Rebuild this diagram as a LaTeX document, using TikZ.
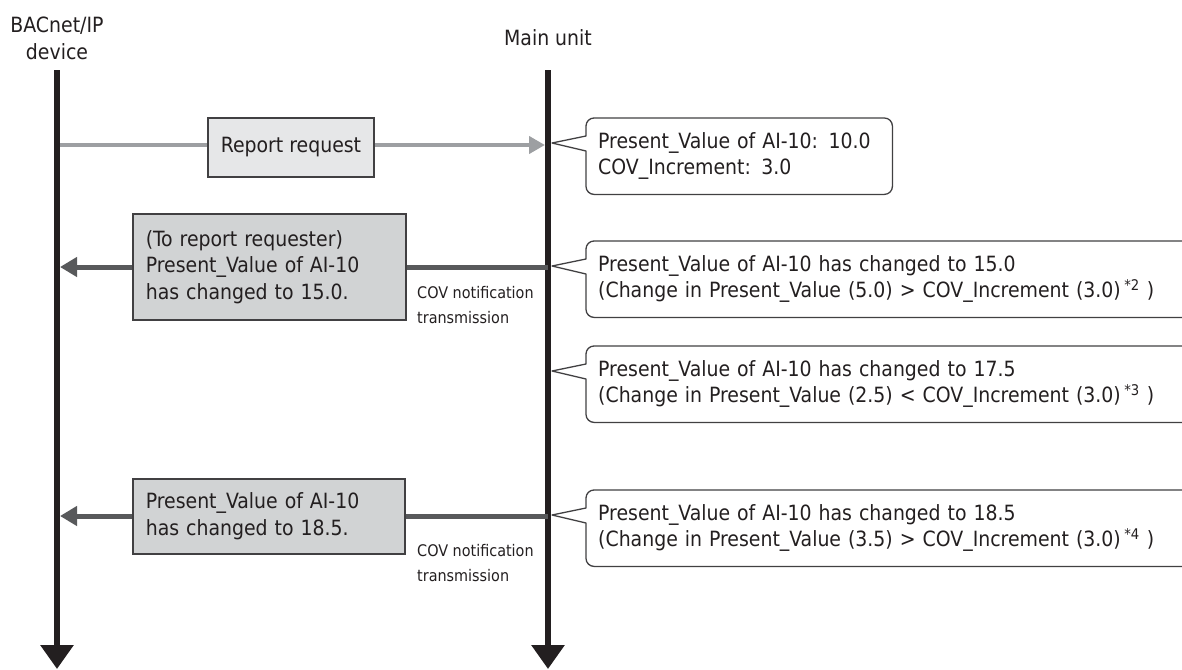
\documentclass[tikz,border=0pt]{standalone}
\usepackage{fontspec}
\setmainfont{DejaVu Sans Condensed}
\usetikzlibrary{arrows.meta,calc}
\definecolor{ink}{HTML}{231F20}
\definecolor{reqgray}{HTML}{9D9FA2}
\definecolor{notegray}{HTML}{58595B}
\definecolor{boxlight}{HTML}{E6E7E8}
\definecolor{boxdark}{HTML}{D1D3D4}
\definecolor{edge}{HTML}{414042}

% underscore glyph taken from the text font
\newcommand\us{{\char"5F}}

% speech-bubble note attached to the main unit's lifeline
% #1 name, #2 top y, #3 right x, #4 text width, #5 text
\newcommand\drawnote[5]{%
  \node[notetext, text width=#4pt, minimum width={#3-586}] (#1) at (586,#2) {#5};
  \coordinate (#1tip) at (552,#2+25);
  \draw[noteline] (#1tip) -- ($(#1.north west)+(0,18)$) [rounded corners=8pt]
    -- (#1.north west) -- (#1.north east) -- (#1.south east) -- (#1.south west)
    [sharp corners] -- ($(#1.north west)+(0,33)$) -- cycle;
}

\begin{document}
\begin{tikzpicture}[x=1pt,y=-1pt,
  font=\fontsize{21}{26.5}\selectfont,
  every node/.style={text=ink},
  hdr/.style={align=center, inner sep=0pt},
  lifeline/.style={line width=6pt, draw=ink, -{Triangle[width=32pt,length=24pt]}},
  reqarrow/.style={line width=4pt, draw=reqgray, -{Triangle[width=17pt,length=16pt]}},
  notearrow/.style={line width=5pt, draw=notegray, -{Triangle[width=19pt,length=17pt]}},
  msgbox/.style={draw=edge, line width=1.6pt, inner xsep=13pt, inner ysep=0pt, align=left, anchor=north west},
  covlabel/.style={font=\fontsize{16}{25}\selectfont, align=left, anchor=west, inner sep=0pt},
  notetext/.style={anchor=north west, inner xsep=12pt, inner ysep=0pt, minimum height=76pt, align=left},
  noteline/.style={draw=edge, line width=1.3pt, line join=round}
]
\clip (0,0) rectangle (1182,669);

% column headings
\node[hdr] (devhdr) at (57,38.5) {BACnet/IP\\device};
\node[hdr] (mainhdr) at (548,38) {Main unit};

% lifelines
\coordinate (devtop) at (57,70);
\coordinate (devbot) at (57,669);
\coordinate (maintop) at (548,70);
\coordinate (mainbot) at (548,669);
\draw[lifeline] (devtop) -- (devbot);
\draw[lifeline] (maintop) -- (mainbot);

% report request
\coordinate (reqfrom) at (60,145);
\coordinate (reqto) at (545,145);
\draw[reqarrow] (reqfrom) -- (reqto);
\node[msgbox, fill=boxlight, minimum width=152pt, minimum height=59pt, align=center] (req) at (207,117) {Report request};

% first COV notification
\coordinate (cov1from) at (548,267);
\coordinate (cov1to) at (60,267);
\draw[notearrow] (cov1from) -- (cov1to);
\node[msgbox, fill=boxdark, text width=247pt, minimum height=106pt] (cov1) at (132,213)
  {(To report requester)\\Present\us Value of AI-10\\has changed to 15.0.};
\node[covlabel] (cov1lbl) at (417,305.5) {COV notification\\transmission};

% second COV notification
\coordinate (cov2from) at (548,516);
\coordinate (cov2to) at (60,516);
\draw[notearrow] (cov2from) -- (cov2to);
\node[msgbox, fill=boxdark, text width=246pt, minimum height=75pt] (cov2) at (132,478)
  {Present\us Value of AI-10\\has changed to 18.5.};
\node[covlabel] (cov2lbl) at (417,563) {COV notification\\transmission};

% notes at the main unit
\drawnote{note1}{118}{892}{282}{Present\us Value of AI-10: 10.0\\COV\us Increment: 3.0}
\drawnote{note2}{241}{1200}{590}{Present\us Value of AI-10 has changed to 15.0\\(Change in Present\us Value (5.0) > COV\us Increment (3.0)\,\textsuperscript{*2} )}
\drawnote{note3}{346}{1200}{590}{Present\us Value of AI-10 has changed to 17.5\\(Change in Present\us Value (2.5) < COV\us Increment (3.0)\,\textsuperscript{*3} )}
\drawnote{note4}{490}{1200}{590}{Present\us Value of AI-10 has changed to 18.5\\(Change in Present\us Value (3.5) > COV\us Increment (3.0)\,\textsuperscript{*4} )}
\end{tikzpicture}
\end{document}
